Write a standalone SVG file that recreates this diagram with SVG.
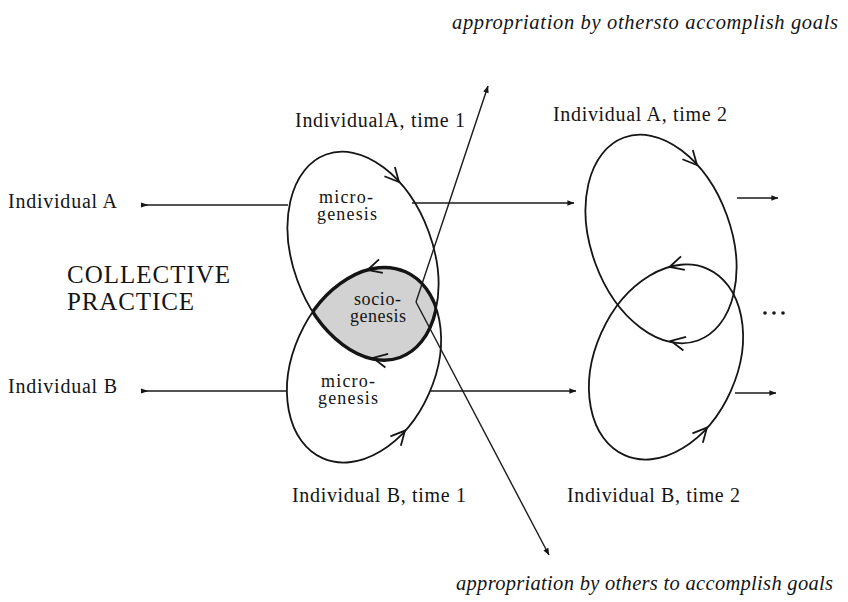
<svg xmlns="http://www.w3.org/2000/svg" xmlns:xlink="http://www.w3.org/1999/xlink" width="848" height="602" viewBox="0 0 848 602">
<style>
  .lbl { font-family: "Liberation Serif", "Times New Roman", serif; font-size: 20px; fill: #141414; }
  .sm { font-family: "Liberation Serif", "Times New Roman", serif; font-size: 18px; fill: #141414; }
  .big { font-family: "Liberation Serif", "Times New Roman", serif; font-size: 25px; fill: #141414; }
  .it { font-family: "Liberation Serif", "Times New Roman", serif; font-size: 20.5px; font-style: italic; fill: #141414; }
  .loop { fill: none; stroke: #151515; stroke-width: 1.8; }
  .bold { fill: none; stroke: #151515; stroke-width: 3.4; }
  .ln { fill: none; stroke: #1a1a1a; stroke-width: 1.4; }
  .vh { fill: none; stroke: #151515; stroke-width: 1.8; stroke-linejoin: miter; }
</style>
<defs>
  <marker id="ah" viewBox="0 0 10 10" refX="9.5" refY="5" markerWidth="10" markerHeight="7" markerUnits="userSpaceOnUse" orient="auto">
    <path d="M0,1 L10,5 L0,9 Z" fill="#151515"/>
  </marker>
  <path id="v" d="M-14,-7 L0,0 L-14,7"/>
  <clipPath id="clipA1"><ellipse cx="363" cy="256" rx="108" ry="70" transform="rotate(70 363 256)"/></clipPath>
  <clipPath id="clipB1"><ellipse cx="364" cy="365" rx="102" ry="71" transform="rotate(-66 364 365)"/></clipPath>
</defs>
<rect width="848" height="602" fill="#ffffff"/>

<g id="title-top"><text class="it" x="452" y="29" textLength="386">appropriation by othersto accomplish goals</text></g>
<g id="title-bottom"><text class="it" x="456" y="590" textLength="377">appropriation by others to accomplish goals</text></g>

<g id="label-indA"><text class="lbl" x="8" y="208" textLength="109">Individual A</text></g>
<g id="label-indB"><text class="lbl" x="8" y="393" textLength="109">Individual B</text></g>
<g id="collective-practice">
  <text class="big" x="67" y="283" textLength="163">COLLECTIVE</text>
  <text class="big" x="67" y="310" textLength="127">PRACTICE</text>
</g>

<g id="sociogenesis">
  <g clip-path="url(#clipA1)">
    <ellipse cx="364" cy="365" rx="102" ry="71" transform="rotate(-66 364 365)" fill="#d2d2d2"/>
    <ellipse class="bold" cx="364" cy="365" rx="102" ry="71" transform="rotate(-66 364 365)"/>
  </g>
  <g clip-path="url(#clipB1)">
    <ellipse class="bold" cx="363" cy="256" rx="108" ry="70" transform="rotate(70 363 256)"/>
  </g>
  <text class="sm" x="354" y="305" textLength="47">socio-</text>
  <text class="sm" x="350" y="322" textLength="56">genesis</text>
</g>

<g id="A-time1">
  <ellipse class="loop" cx="363" cy="256" rx="108" ry="70" transform="rotate(70 363 256)"/>
  <use href="#v" class="vh" transform="translate(399,182) rotate(48)"/>
  <use href="#v" class="vh" transform="translate(373,358) rotate(191)"/>
  <text class="lbl" x="295" y="127" textLength="170">IndividualA, time 1</text>
  <text class="sm" x="319" y="203" textLength="54">micro-</text>
  <text class="sm" x="317" y="220" textLength="60">genesis</text>
</g>

<g id="B-time1">
  <ellipse class="loop" cx="364" cy="365" rx="102" ry="71" transform="rotate(-66 364 365)"/>
  <use href="#v" class="vh" transform="translate(367.5,270) rotate(164)"/>
  <use href="#v" class="vh" transform="translate(405,430.6) rotate(-48)"/>
  <text class="lbl" x="292" y="502" textLength="174">Individual B, time 1</text>
  <text class="sm" x="321" y="387" textLength="54">micro-</text>
  <text class="sm" x="318" y="404" textLength="60">genesis</text>
</g>

<g id="A-time2">
  <g transform="translate(298,-17)">
    <ellipse class="loop" cx="363" cy="256" rx="108" ry="70" transform="rotate(70 363 256)"/>
    <use href="#v" class="vh" transform="translate(399,182) rotate(48)"/>
    <use href="#v" class="vh" transform="translate(373,358) rotate(191)"/>
  </g>
  <text class="lbl" x="553" y="121" textLength="174">Individual A, time 2</text>
</g>

<g id="B-time2">
  <g transform="translate(302,-3)">
    <ellipse class="loop" cx="364" cy="365" rx="102" ry="71" transform="rotate(-66 364 365)"/>
    <use href="#v" class="vh" transform="translate(367.5,270) rotate(164)"/>
    <use href="#v" class="vh" transform="translate(405,430.6) rotate(-48)"/>
  </g>
  <text class="lbl" x="567" y="502" textLength="173">Individual B, time 2</text>
</g>

<g id="ellipsis">
  <circle cx="765" cy="313" r="1.8" fill="#151515"/>
  <circle cx="774" cy="313" r="1.8" fill="#151515"/>
  <circle cx="783" cy="313" r="1.8" fill="#151515"/>
</g>

<g id="connectors">
  <path d="M141,202.5 L148.5,205 L141,207.5 Z" fill="#151515"/>
  <line class="ln" x1="145" y1="205" x2="288" y2="205"/>
  <path d="M141,388.5 L148.5,391 L141,393.5 Z" fill="#151515"/>
  <line class="ln" x1="145" y1="391" x2="286" y2="391"/>
  <line class="ln" x1="412" y1="203" x2="574" y2="203" marker-end="url(#ah)"/>
  <line class="ln" x1="430" y1="391" x2="576" y2="391" marker-end="url(#ah)"/>
  <line class="ln" x1="737" y1="198" x2="778" y2="198" marker-end="url(#ah)"/>
  <line class="ln" x1="735" y1="393" x2="776" y2="393" marker-end="url(#ah)"/>
  <path class="ln" d="M416,302 L488,86" marker-end="url(#ah)"/>
  <path class="ln" d="M416,302 L549,555" marker-end="url(#ah)"/>
</g>
</svg>
